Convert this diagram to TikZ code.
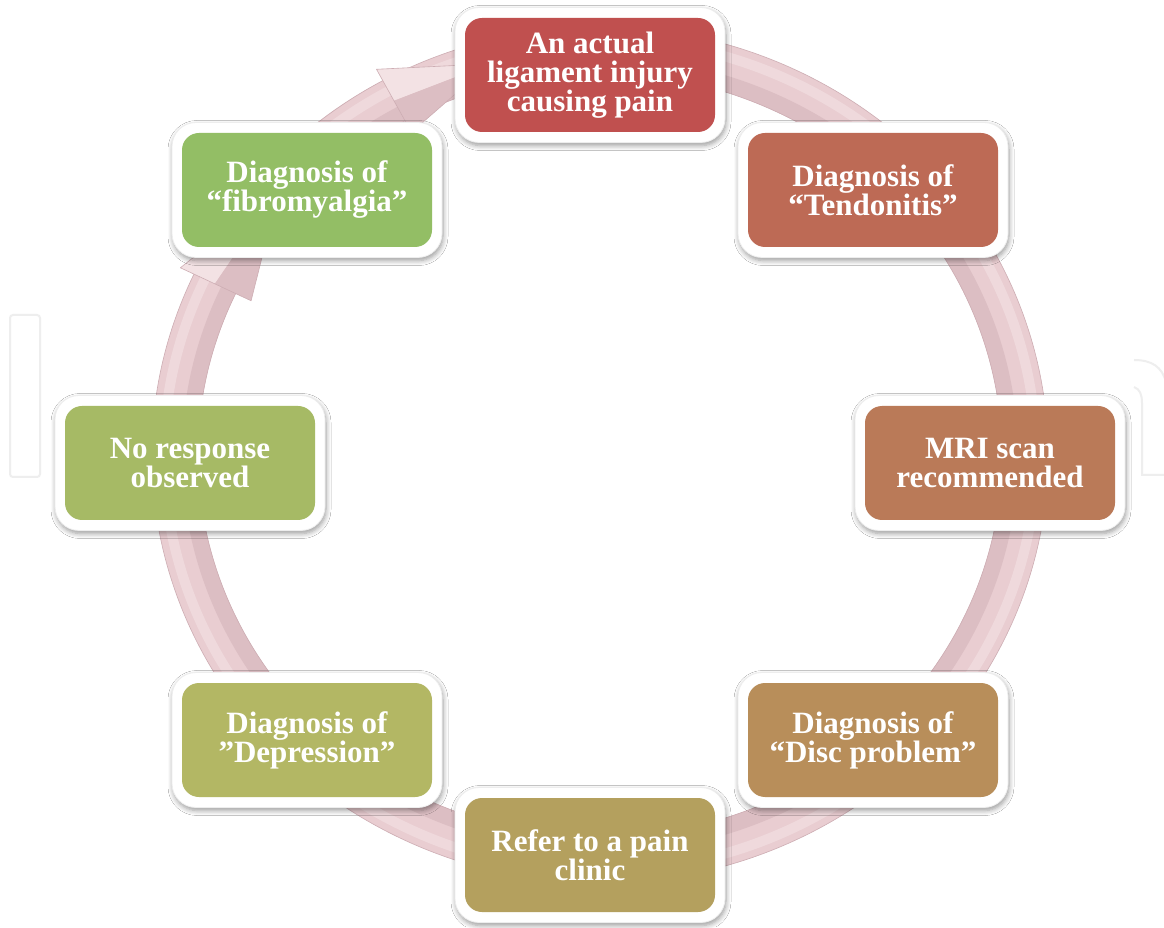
\documentclass[tikz,border=0pt]{standalone}
\usepackage{fontspec}
\setmainfont{Liberation Serif}
\usetikzlibrary{shadows.blur,calc}
\definecolor{c1}{HTML}{C0504F}
\definecolor{c2}{HTML}{BD6A55}
\definecolor{c3}{HTML}{BA7A58}
\definecolor{c4}{HTML}{B88E5A}
\definecolor{c5}{HTML}{B4A05E}
\definecolor{c6}{HTML}{B3B764}
\definecolor{c7}{HTML}{A6BA65}
\definecolor{c8}{HTML}{93BE65}
\definecolor{ringmain}{HTML}{E9CDD1}
\definecolor{ringdark}{HTML}{DCBEC3}
\definecolor{ringlight}{HTML}{F3E2E4}
\definecolor{ringedge}{HTML}{CDADB3}
\definecolor{wmgray}{HTML}{EEEEEE}
\begin{document}
\begin{tikzpicture}[x=1pt,y=1pt,
  frame/.style={fill=white, draw=black!7, line width=0.8pt, rounded corners=24pt,
    minimum width=270pt, minimum height=135pt, inner sep=0pt,
    blur shadow={shadow xshift=1pt, shadow yshift=-3pt, shadow blur radius=5pt,
      shadow blur steps=6, shadow opacity=40}},
  card/.style={fill=#1, rounded corners=17pt, minimum width=250pt, minimum height=114pt,
    inner sep=0pt, text=white, align=center,
    font=\bfseries\fontsize{31}{29}\selectfont},
  wm/.style={draw=wmgray, line width=2pt},
  ringedgeline/.style={draw=ringedge, line width=0.6pt},
  headedge/.style={draw=ringedge, line width=0.6pt, line join=round}
]
\useasboundingbox (0,0) rectangle (1164,927);
\fill[white] (0,0) rectangle (1164,927);

% faint watermark
\draw[wm, rounded corners=3pt] (10,612) rectangle (40,450);
\draw[wm] (1134,567) .. controls (1152,567) and (1162,560) .. (1166,545);
\draw[wm] (1134,540) .. controls (1140,538) and (1142,532) .. (1142,524) -- (1142,452) -- (1166,452);

% ring
\coordinate (C) at (600,472);
\draw[line width=46pt, ringmain] (C) ++(155:425 and 405)
  arc[start angle=155, end angle=-260, x radius=425, y radius=405];
\draw[line width=16pt, ringdark] (C) ++(155:410 and 390)
  arc[start angle=155, end angle=-260, x radius=410, y radius=390];
\draw[line width=10pt, ringlight, opacity=0.6] (C) ++(155:436 and 416)
  arc[start angle=155, end angle=-260, x radius=436, y radius=416];
\draw[ringedgeline] (C) ++(155:448 and 428)
  arc[start angle=155, end angle=-260, x radius=448, y radius=428];
\draw[ringedgeline] (C) ++(155:402 and 382)
  arc[start angle=155, end angle=-260, x radius=402, y radius=382];

% arrow head on the left (towards fibromyalgia)
\fill[ringlight] ($(C)+(155:463 and 443)$) -- ($(C)+(139:425 and 405)$) -- ($(C)+(155:425 and 405)$) -- cycle;
\fill[ringdark] ($(C)+(155:385 and 365)$) -- ($(C)+(139:425 and 405)$) -- ($(C)+(155:425 and 405)$) -- cycle;
\draw[headedge] ($(C)+(155:463 and 443)$) -- ($(C)+(139:425 and 405)$) -- ($(C)+(155:385 and 365)$) -- cycle;

% arrow head at the top (towards the first box)
\fill[ringlight] ($(C)+(119:461 and 441)$) -- ($(C)+(105:425 and 405)$) -- ($(C)+(119:425 and 405)$) -- cycle;
\fill[ringdark] ($(C)+(119:389 and 369)$) -- ($(C)+(105:425 and 405)$) -- ($(C)+(119:425 and 405)$) -- cycle;
\draw[headedge] ($(C)+(119:461 and 441)$) -- ($(C)+(105:425 and 405)$) -- ($(C)+(119:389 and 369)$) -- cycle;

% boxes
\node[frame] (f1) at (590,852) {};
\node[card=c1] (top) at (f1) {An actual\\ligament injury\\causing pain};
\node[frame] (f2) at (873,737) {};
\node[card=c2] (tend) at (f2) {Diagnosis of\\“Tendonitis”};
\node[frame] (f3) at (990,464) {};
\node[card=c3] (mri) at (f3) {MRI scan\\recommended};
\node[frame] (f4) at (873,187) {};
\node[card=c4] (disc) at (f4) {Diagnosis of\\“Disc problem”};
\node[frame] (f5) at (590,72) {};
\node[card=c5] (refer) at (f5) {Refer to a pain\\clinic};
\node[frame] (f6) at (307,187) {};
\node[card=c6] (depr) at (f6) {Diagnosis of\\”Depression”};
\node[frame] (f7) at (190,464) {};
\node[card=c7] (nores) at (f7) {No response\\observed};
\node[frame] (f8) at (307,737) {};
\node[card=c8] (fibro) at (f8) {Diagnosis of\\“fibromyalgia”};
\end{tikzpicture}
\end{document}
